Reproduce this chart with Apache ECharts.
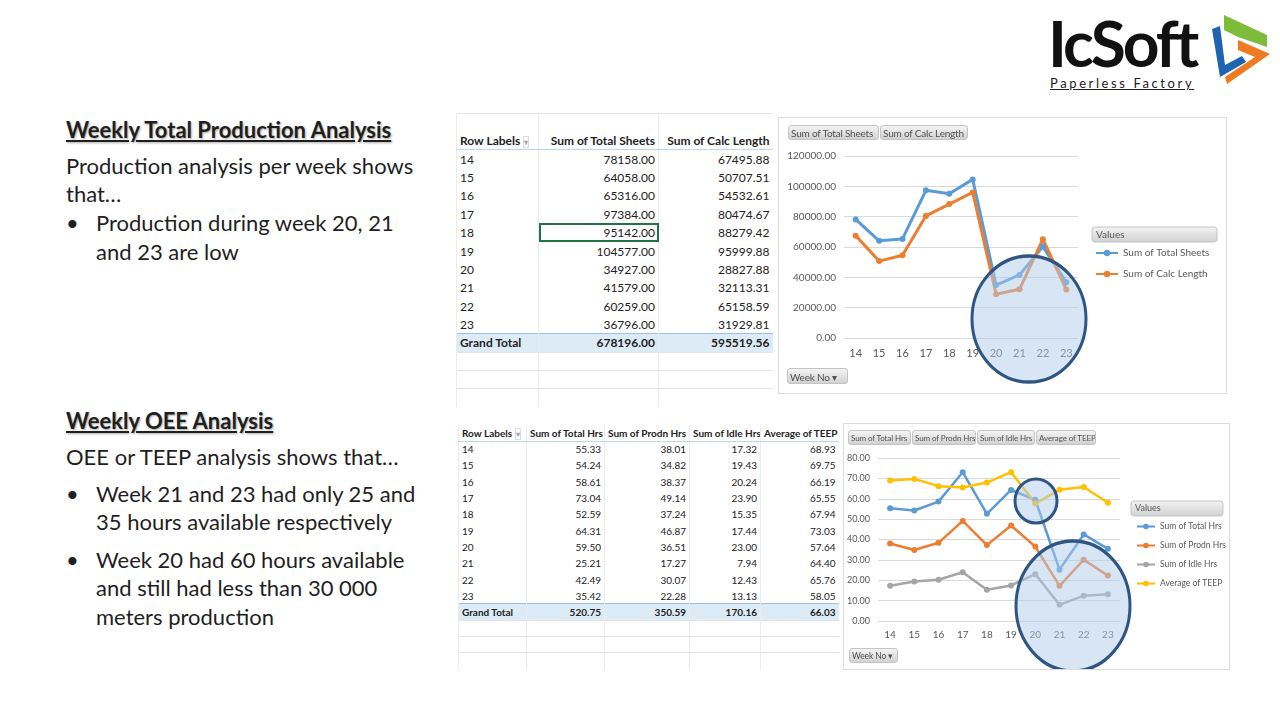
<!DOCTYPE html>
<html>
<head>
<meta charset="utf-8">
<script src="https://cdn.jsdelivr.net/npm/echarts@6/dist/echarts.min.js"></script>
<style>
  body { margin: 0; width: 1280px; height: 720px; background: #fff; position: relative; overflow: hidden; font-family: Lato, "Open Sans", sans-serif; color: #1f1f1f; }
  .abs { position: absolute; white-space: nowrap; }
  .head { font-weight: bold; font-size: 22px; line-height: 24px; text-decoration: underline; text-shadow: 1px 1px 2px rgba(0,0,0,.35); }
  .txt { font-size: 22px; line-height: 28px; }
  .btn { position: absolute; height: 15px; line-height: 15px; font-size: 10px; letter-spacing: -0.2px; color: #505050; background: linear-gradient(#f4f4f4, #d2d2d2); border: 1px solid #c4c4c4; border-radius: 3px; padding: 0 2px; box-sizing: border-box; white-space: nowrap; overflow: hidden; z-index: 5; }
  .btn.s { font-size: 8px; letter-spacing: -0.1px; }
  .box { position: absolute; border: 1px solid #dcdcdc; background: #fff; }
  table { position: absolute; border-collapse: collapse; table-layout: fixed; }
  td { padding: 0 3px; white-space: nowrap; overflow: hidden; border-left: 1px solid #ececec; }
  td.n { text-align: right; }
  tr.h td { font-weight: bold; border-bottom: 1px solid #bdd7ee; }
  tr.g td { font-weight: bold; background: #ddebf7; border-top: 1px solid #9bc2e6; }
  tr.e td { border-top: 1px solid #e6e6e6; }
  td.sel { outline: 2px solid #217346; outline-offset: -2px; }
</style>
</head>
<body>

<!-- logo -->
<div class="abs" style="left:1048px;top:11px;font-size:64px;line-height:64px;font-weight:bold;letter-spacing:-3px;color:#111">IcSoft</div>
<div class="abs" style="left:1050px;top:75px;font-size:13px;line-height:16px;letter-spacing:2.6px;text-decoration:underline;color:#222">Paperless Factory</div>
<svg class="abs" style="left:1205px;top:10px" width="75" height="80" viewBox="0 0 75 80">
  <polygon points="19,5 62,25 62,37 33,27 19,20" fill="#7dbb3b"/>
  <polygon points="7,19 15,16 20,55 37,46 41,52 15,67" fill="#1f64b0"/>
  <polygon points="33,30 65,44 22,74 20,67 50,47 33,40" fill="#ee7a22"/>
</svg>

<!-- left texts -->
<div class="abs head" style="left:66px;top:118px">Weekly Total Production Analysis</div>
<div class="abs txt" style="left:66px;top:152px">Production analysis per week shows</div>
<div class="abs txt" style="left:66px;top:180px">that…</div>
<div class="abs txt" style="left:66px;top:209px">•</div>
<div class="abs txt" style="left:96px;top:209px">Production during week 20, 21</div>
<div class="abs txt" style="left:96px;top:238px">and 23 are low</div>

<div class="abs head" style="left:66px;top:409px">Weekly OEE Analysis</div>
<div class="abs txt" style="left:66px;top:443px">OEE or TEEP analysis shows that…</div>
<div class="abs txt" style="left:66px;top:480px">•</div>
<div class="abs txt" style="left:96px;top:480px">Week 21 and 23 had only 25 and</div>
<div class="abs txt" style="left:96px;top:508px">35 hours available respectively</div>
<div class="abs txt" style="left:66px;top:546px">•</div>
<div class="abs txt" style="left:96px;top:546px">Week 20 had 60 hours available</div>
<div class="abs txt" style="left:96px;top:574px">and still had less than 30 000</div>
<div class="abs txt" style="left:96px;top:603px">meters production</div>

<!-- tables -->
<table id="tblTop" style="left:456px;top:113px;font-size:12px;color:#222"></table>
<table id="tblBot" style="left:458px;top:425px;font-size:10px;color:#222"></table>

<!-- charts -->
<div class="box" id="chartTop" style="left:778px;top:117px;width:447px;height:275px"></div>
<div class="btn" style="left:788px;top:125px;width:91px">Sum of Total Sheets</div>
<div class="btn" style="left:880px;top:125px;width:88px">Sum of Calc Length</div>
<div class="btn" style="left:787px;top:368px;width:61px;height:16px;line-height:16px">Week No &#9662;</div>

<div class="box" id="chartBot" style="left:843px;top:423px;width:385px;height:245px"></div>
<div class="btn s" style="left:848px;top:430px;width:63px">Sum of Total Hrs</div>
<div class="btn s" style="left:912px;top:430px;width:64px">Sum of Prodn Hrs</div>
<div class="btn s" style="left:977px;top:430px;width:58px">Sum of Idle Hrs</div>
<div class="btn s" style="left:1036px;top:430px;width:60px">Average of TEEP</div>
<div class="btn s" style="left:849px;top:648px;width:49px;font-size:8.5px">Week No &#9662;</div>

<script>
const weeks = ['14', '15', '16', '17', '18', '19', '20', '21', '22', '23'];
const totalSheets = [78158.00, 64058.00, 65316.00, 97384.00, 95142.00, 104577.00, 34927.00, 41579.00, 60259.00, 36796.00];
const calcLength = [67495.88, 50707.51, 54532.61, 80474.67, 88279.42, 95999.88, 28827.88, 32113.31, 65158.59, 31929.81];
const prodTotals = ['678196.00', '595519.56'];

const totalHrs = [55.33, 54.24, 58.61, 73.04, 52.59, 64.31, 59.50, 25.21, 42.49, 35.42];
const prodnHrs = [38.01, 34.82, 38.37, 49.14, 37.24, 46.87, 36.51, 17.27, 30.07, 22.28];
const idleHrs = [17.32, 19.43, 20.24, 23.90, 15.35, 17.44, 23.00, 7.94, 12.43, 13.13];
const teep = [68.93, 69.75, 66.19, 65.55, 67.94, 73.03, 57.64, 64.40, 65.76, 58.05];
const oeeTotals = ['520.75', '350.59', '170.16', '66.03'];

const topNames = ['Sum of Total Sheets', 'Sum of Calc Length'];
const botNames = ['Sum of Total Hrs', 'Sum of Prodn Hrs', 'Sum of Idle Hrs', 'Average of TEEP'];
const colors = ['#5b9bd5', '#ed7d31', '#a5a5a5', '#ffc000'];

// pivot tables
function buildTable(id, widths, rowH, headRowH, names, cols, totals, emptyBefore, emptyAfter, selCell) {
  const t = document.getElementById(id);
  t.style.width = widths.reduce((a, b) => a + b, 0) + 'px';
  let html = '<colgroup>' + widths.map(w => '<col style="width:' + w + 'px">').join('') + '</colgroup>';
  const empty = '<tr class="e" style="height:' + rowH + 'px">' + widths.map(() => '<td></td>').join('') + '</tr>';
  for (let i = 0; i < emptyBefore; i++) html += empty;
  html += '<tr class="h" style="height:' + headRowH + 'px"><td>Row Labels <span style="color:#aaa;font-size:8px;border:1px solid #ddd">&#9662;</span></td>' +
    names.map(n => '<td class="n">' + n + '</td>').join('') + '</tr>';
  weeks.forEach((w, i) => {
    html += '<tr style="height:' + rowH + 'px"><td>' + w + '</td>' +
      cols.map((c, j) => '<td class="n' + (selCell && selCell[0] === i && selCell[1] === j ? ' sel' : '') + '">' + c[i].toFixed(2) + '</td>').join('') + '</tr>';
  });
  html += '<tr class="g" style="height:' + rowH + 'px"><td>Grand Total</td>' + totals.map(v => '<td class="n">' + v + '</td>').join('') + '</tr>';
  for (let i = 0; i < emptyAfter; i++) html += empty;
  t.innerHTML = html;
}
buildTable('tblTop', [82, 120, 114], 18.4, 18, topNames, [totalSheets, calcLength], prodTotals, 1, 3, [4, 0]);
buildTable('tblBot', [68, 78, 85, 71, 78], 16.3, 16, botNames, [totalHrs, prodnHrs, idleHrs, teep], oeeTotals, 0, 3, null);

function valuesBox(x, y, w, fs) {
  return {
    type: 'group', x: x, y: y, z: 50,
    children: [
      { type: 'rect', shape: { x: 0, y: 0, width: w, height: 15, r: 3 },
        style: { fill: new echarts.graphic.LinearGradient(0, 0, 0, 1, [{ offset: 0, color: '#f4f4f4' }, { offset: 1, color: '#d0d0d0' }]), stroke: '#c4c4c4' } },
      { type: 'text', x: 4, y: 7.5, style: { text: 'Values', fontSize: fs, fill: '#555', verticalAlign: 'middle', fontFamily: 'Lato' } }
    ]
  };
}
function ring(cx, cy, r, ry) {
  return {
    type: 'circle', x: cx, y: cy, scaleY: ry / r, z: 100,
    shape: { cx: 0, cy: 0, r: r },
    style: { fill: 'rgba(176,203,235,0.5)', stroke: '#2f5583', lineWidth: 3 }
  };
}
function lineSeries(name, data, color, width) {
  return {
    name: name, type: 'line', data: data,
    symbol: 'circle', symbolSize: 6,
    lineStyle: { width: width, color: color },
    itemStyle: { color: color }
  };
}

const chartTop = echarts.init(document.getElementById('chartTop'));
chartTop.setOption({
  animation: false,
  textStyle: { fontFamily: 'Lato' },
  grid: { left: 65, right: 148, top: 38, bottom: 55 },
  legend: {
    orient: 'vertical', left: 311, top: 125, itemWidth: 22, itemHeight: 8, itemGap: 11,
    textStyle: { fontSize: 10, color: '#595959' }, data: topNames
  },
  xAxis: {
    type: 'category', data: weeks,
    axisLine: { show: false }, axisTick: { show: false },
    axisLabel: { color: '#595959', fontSize: 11, margin: 10 }
  },
  yAxis: {
    type: 'value', min: 0, max: 120000, interval: 20000,
    axisLabel: { formatter: v => v.toFixed(2), color: '#595959', fontSize: 10, margin: 8 },
    splitLine: { lineStyle: { color: '#d9d9d9' } }
  },
  series: [
    lineSeries(topNames[0], totalSheets, colors[0], 3),
    lineSeries(topNames[1], calcLength, colors[1], 3)
  ],
  graphic: [valuesBox(313, 109, 125, 10), ring(250, 201, 57, 63)]
});

const chartBot = echarts.init(document.getElementById('chartBot'));
chartBot.setOption({
  animation: false,
  textStyle: { fontFamily: 'Lato' },
  grid: { left: 33, right: 109, top: 34, bottom: 48 },
  legend: {
    orient: 'vertical', left: 287, top: 93, itemWidth: 18, itemHeight: 7, itemGap: 10,
    textStyle: { fontSize: 8.5, color: '#595959' }, data: botNames
  },
  xAxis: {
    type: 'category', data: weeks,
    axisLine: { show: false }, axisTick: { show: false },
    axisLabel: { color: '#595959', fontSize: 10, margin: 9 }
  },
  yAxis: {
    type: 'value', min: 0, max: 80, interval: 10,
    axisLabel: { formatter: v => v.toFixed(2), color: '#595959', fontSize: 9, margin: 8 },
    splitLine: { lineStyle: { color: '#d9d9d9' } }
  },
  series: [
    lineSeries(botNames[0], totalHrs, colors[0], 2.5),
    lineSeries(botNames[1], prodnHrs, colors[1], 2.5),
    lineSeries(botNames[2], idleHrs, colors[2], 2.5),
    lineSeries(botNames[3], teep, colors[3], 2.5)
  ],
  graphic: [valuesBox(287, 77, 92, 9), ring(192, 77, 21, 22), ring(229, 182, 57, 65)]
});
</script>
</body>
</html>
